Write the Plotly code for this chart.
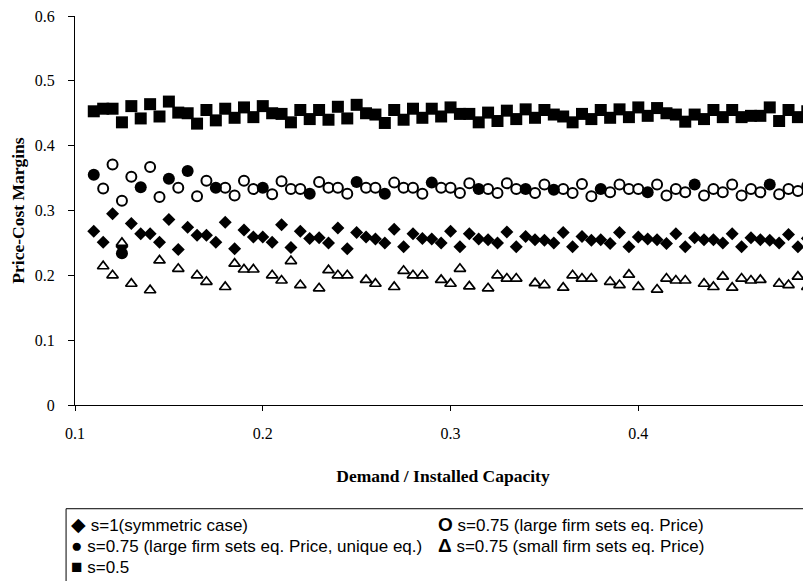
import plotly.graph_objects as go

# ---------------- data ----------------
demand = [0.110, 0.115, 0.120, 0.125, 0.130, 0.135, 0.140, 0.145, 0.150, 0.155,
          0.160, 0.165, 0.170, 0.175, 0.180, 0.185, 0.190, 0.195, 0.200, 0.205,
          0.210, 0.215, 0.220, 0.225, 0.230, 0.235, 0.240, 0.245, 0.250, 0.255,
          0.260, 0.265, 0.270, 0.275, 0.280, 0.285, 0.290, 0.295, 0.300, 0.305,
          0.310, 0.315, 0.320, 0.325, 0.330, 0.335, 0.340, 0.345, 0.350, 0.355,
          0.360, 0.365, 0.370, 0.375, 0.380, 0.385, 0.390, 0.395, 0.400, 0.405,
          0.410, 0.415, 0.420, 0.425, 0.430, 0.435, 0.440, 0.445, 0.450, 0.455,
          0.460, 0.465, 0.470, 0.475, 0.480, 0.485, 0.490]

s1_symmetric = [0.268, 0.251, 0.295, 0.244, 0.280, 0.264, 0.264, 0.251, 0.286, 0.240,
                0.274, 0.262, 0.262, 0.251, 0.282, 0.241, 0.270, 0.259, 0.259, 0.251,
                0.278, 0.243, 0.268, 0.257, 0.258, 0.250, 0.273, 0.241, 0.266, 0.259,
                0.256, 0.250, 0.271, 0.244, 0.264, 0.257, 0.256, 0.250, 0.268, 0.244,
                0.264, 0.256, 0.255, 0.250, 0.267, 0.244, 0.260, 0.255, 0.254, 0.250,
                0.266, 0.244, 0.260, 0.254, 0.255, 0.249, 0.266, 0.244, 0.259, 0.256,
                0.255, 0.249, 0.264, 0.244, 0.258, 0.255, 0.255, 0.250, 0.264, 0.244,
                0.258, 0.255, 0.254, 0.250, 0.263, 0.244, 0.257]

s075_large = [None, 0.334, 0.371, 0.315, 0.352, None, 0.367, 0.321, None, 0.335,
              None, 0.322, 0.346, None, 0.335, 0.323, 0.346, 0.333, None, 0.325,
              0.345, 0.333, 0.333, None, 0.344, 0.335, 0.335, 0.326, None, 0.335,
              0.335, None, 0.343, 0.335, 0.335, 0.326, None, 0.335, 0.335, 0.327,
              0.342, None, 0.333, 0.327, 0.342, 0.333, None, 0.327, 0.340, None,
              0.333, 0.327, 0.341, 0.322, None, 0.328, 0.340, 0.333, 0.333, None,
              0.340, 0.323, 0.333, 0.328, None, 0.323, 0.333, 0.328, 0.340, 0.323,
              0.333, 0.328, None, 0.325, 0.333, 0.330, 0.338]

s075_large_unique = [0.355, None, None, 0.234, None, 0.336, None, None, 0.349, None,
                     0.361, None, None, 0.335, None, None, None, None, 0.335, None,
                     None, None, None, 0.326, None, None, None, None, 0.344, None,
                     None, 0.326, None, None, None, None, 0.343, None, None, None,
                     None, 0.333, None, None, None, None, 0.333, None, None, 0.332,
                     None, None, None, None, 0.333, None, None, None, None, 0.328,
                     None, None, None, None, 0.340, None, None, None, None, None,
                     None, None, 0.340, None, None, None, None]

s075_small = [None, 0.214, 0.200, 0.250, 0.187, None, 0.177, 0.223, None, 0.210,
              None, 0.200, 0.190, None, 0.182, 0.218, 0.209, 0.209, None, 0.200,
              0.192, 0.222, 0.185, None, 0.180, 0.208, 0.200, 0.200, None, 0.193,
              0.187, None, 0.182, 0.207, 0.200, 0.200, None, 0.193, 0.187, 0.210,
              0.183, None, 0.180, 0.200, 0.195, 0.195, None, 0.188, 0.185, None,
              0.181, 0.200, 0.195, 0.195, None, 0.190, 0.185, 0.201, 0.182, None,
              0.178, 0.195, 0.192, 0.192, None, 0.187, 0.182, 0.198, 0.181, 0.195,
              0.192, 0.193, None, 0.187, 0.185, 0.198, 0.182]

s05 = [0.453, 0.457, 0.457, 0.436, 0.461, 0.442, 0.464, 0.445, 0.468, 0.451,
       0.450, 0.434, 0.455, 0.439, 0.457, 0.443, 0.459, 0.444, 0.461, 0.450,
       0.449, 0.436, 0.455, 0.441, 0.455, 0.440, 0.460, 0.442, 0.463, 0.450,
       0.448, 0.435, 0.455, 0.440, 0.457, 0.443, 0.457, 0.445, 0.459, 0.449,
       0.449, 0.436, 0.451, 0.438, 0.454, 0.441, 0.456, 0.443, 0.455, 0.448,
       0.445, 0.436, 0.449, 0.441, 0.455, 0.443, 0.456, 0.444, 0.459, 0.446,
       0.458, 0.450, 0.448, 0.437, 0.448, 0.441, 0.455, 0.444, 0.455, 0.444,
       0.446, 0.446, 0.459, 0.438, 0.455, 0.444, 0.453]

x_ticks = [0.1, 0.2, 0.3, 0.4]
y_ticks = [0, 0.1, 0.2, 0.3, 0.4, 0.5, 0.6]

legend_rows = [
    ("\u25C6", "s=1(symmetric case)", "O", "s=0.75 (large firm sets eq. Price)"),
    ("\u25CF", "s=0.75 (large firm sets eq. Price, unique eq.)", "\u0394", "s=0.75 (small firm sets eq. Price)"),
    ("\u25A0", "s=0.5", None, None),
]

# ---------------- layout geometry ----------------
# the page body has an 8px margin, so the figure is drawn 8px smaller
W, H = 803, 573
ML, MR, MT, MB = 61, 0, 7, 176
PW = W - ML - MR
PH = H - MT - MB
X0, PX_PER_UNIT = 0.1, 1893.0
x_range = [X0, X0 + PW / PX_PER_UNIT]


def px2paper_x(px):
    return (px - ML) / PW


def py2paper_y(py):
    return (H - MB - py) / PH


fig = go.Figure()

fig.add_trace(go.Scatter(x=demand, y=s1_symmetric, mode="markers",
                         name="s=1(symmetric case)",
                         marker=dict(symbol="diamond", size=10, color="black")))
fig.add_trace(go.Scatter(x=demand, y=s075_large, mode="markers",
                         name="s=0.75 (large firm sets eq. Price)",
                         marker=dict(symbol="circle", size=10, color="white",
                                     line=dict(color="black", width=2))))
fig.add_trace(go.Scatter(x=demand, y=s075_large_unique, mode="markers",
                         name="s=0.75 (large firm sets eq. Price, unique eq.)",
                         marker=dict(symbol="circle", size=12, color="black")))
fig.add_trace(go.Scatter(x=demand, y=s075_small, mode="markers",
                         name="s=0.75 (small firm sets eq. Price)",
                         marker=dict(symbol="triangle-up", size=10, color="white",
                                     line=dict(color="black", width=1.7))))
fig.add_trace(go.Scatter(x=demand, y=s05, mode="markers",
                         name="s=0.5",
                         marker=dict(symbol="square", size=12, color="black")))

serif = "Liberation Serif, Times New Roman, serif"
sans = "Liberation Sans, Arial, sans-serif"

fig.update_layout(
    width=W, height=H,
    margin=dict(l=ML, r=MR, t=MT, b=MB),
    paper_bgcolor="white", plot_bgcolor="white",
    showlegend=False,
    font=dict(family=serif, color="black"),
    xaxis=dict(range=x_range, tickvals=x_ticks, ticktext=[str(v) for v in x_ticks],
               showgrid=False, zeroline=False, showline=True, linecolor="black",
               linewidth=1, ticks="outside", ticklen=5, tickcolor="black",
               tickfont=dict(family=serif, size=16, color="black"),
               ticklabelstandoff=9,
               title=dict(text="<b>Demand / Installed Capacity</b>",
                          font=dict(family=serif, size=17.5, color="black"),
                          standoff=28)),
    yaxis=dict(range=[0, 0.6], tickvals=y_ticks,
               ticktext=["0", "0.1", "0.2", "0.3", "0.4", "0.5", "0.6"],
               showgrid=False, zeroline=False, showline=True, linecolor="black",
               linewidth=1, ticks="outside", ticklen=6, tickcolor="black",
               tickfont=dict(family=serif, size=16, color="black"),
               ticklabelstandoff=10, ticklabeloverflow="allow",
               title=dict(text="<b>Price-Cost Margins</b>",
                          font=dict(family=serif, size=17.5, color="black"),
                          standoff=15)),
)

# legend box drawn as shape + text annotations (figure coordinates)
box_left, box_top, box_right = 52, 501, W + 20
fig.add_shape(type="rect", xref="paper", yref="paper",
              x0=px2paper_x(box_left), x1=px2paper_x(box_right),
              y0=py2paper_y(box_top), y1=py2paper_y(H + 10),
              line=dict(color="black", width=1), fillcolor="white", layer="above")

glyph_style = '<span style="font-size:19px">{}</span>'
row_y = [517, 538, 559]
col_x = [55, 425]
for r, (g1, t1, g2, t2) in enumerate(legend_rows):
    fig.add_annotation(x=px2paper_x(col_x[0]), y=py2paper_y(row_y[r]),
                       xref="paper", yref="paper", xanchor="left", yanchor="middle",
                       text=glyph_style.format(g1) + " " + t1, showarrow=False,
                       font=dict(family=sans, size=17, color="black"))
    if g2 is not None:
        fig.add_annotation(x=px2paper_x(col_x[1]), y=py2paper_y(row_y[r]),
                           xref="paper", yref="paper", xanchor="left", yanchor="middle",
                           text=glyph_style.format("<b>" + g2 + "</b>") + " " + t2,
                           showarrow=False,
                           font=dict(family=sans, size=17, color="black"))

fig.write_html("out.html")
